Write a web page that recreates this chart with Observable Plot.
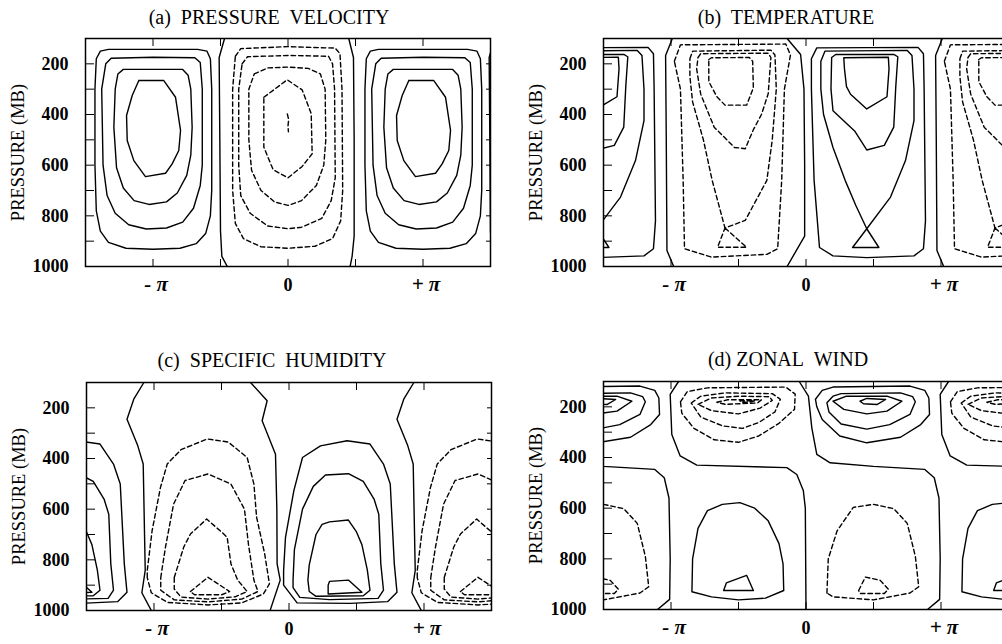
<!DOCTYPE html>
<html>
<head>
<meta charset="utf-8">
<script src="https://cdn.jsdelivr.net/npm/d3@7"></script>
<script src="https://cdn.jsdelivr.net/npm/@observablehq/plot@0.6"></script>
<style>
  html, body { margin: 0; padding: 0; background: #fff; overflow: hidden; }
  #root { position: relative; width: 1002px; height: 644px; overflow: hidden; background: #fff; }
  #root svg { position: absolute; overflow: visible; }
</style>
</head>
<body>
<div id="root"></div>
<script>
// ---------- labels ----------
const panelTitles = ["(a)\u00a0 PRESSURE\u00a0 VELOCITY", "(b)\u00a0 TEMPERATURE", "(c)\u00a0 SPECIFIC\u00a0 HUMIDITY", "(d)\u00a0ZONAL\u00a0 WIND"];
const yAxisTitle = "PRESSURE (MB)";
const pressureLabels = [200, 400, 600, 800, 1000];
const pressureTicks = [100, 200, 300, 400, 500, 600, 700, 800, 900, 1000];
const longitudeTicks = [-1.5, -1, -0.5, 0, 0.5, 1, 1.5];          // in units of pi
const longitudeLabels = [{x: -1, label: "- π"}, {x: 0, label: "0"}, {x: 1, label: "+ π"}];
const periodShifts = [-2, 0, 2];                                     // the pattern repeats every 2π

// ---------- contour lines: [longitude/π, pressure mb], lev = contour level ----------
const velocityContours = [
  {lev: 4, pts: [[-1.105,266],[-0.92,266],[-0.833,332],[-0.796,463],[-0.809,542],[-0.858,595],[-0.907,632],[-1.056,645],[-1.142,582],[-1.191,503],[-1.196,404],[-1.154,325]]},
  {lev: 3, pts: [[-1.26,240],[-1.22,222],[-0.78,222],[-0.74,245],[-0.72,300],[-0.71,450],[-0.72,560],[-0.75,640],[-0.82,710],[-0.9,745],[-1.03,755],[-1.14,740],[-1.22,690],[-1.27,610],[-1.29,450],[-1.28,300]]},
  {lev: 2, pts: [[-1.35,200],[-1.31,178],[-1.0,174],[-0.69,176],[-0.65,195],[-0.635,300],[-0.635,600],[-0.65,680],[-0.7,770],[-0.78,825],[-0.9,848],[-1.05,852],[-1.18,835],[-1.28,790],[-1.34,720],[-1.37,600],[-1.38,300]]},
  {lev: 1, pts: [[-1.42,180],[-1.39,150],[-1.33,143],[-0.67,143],[-0.6,150],[-0.575,180],[-0.565,300],[-0.565,700],[-0.575,800],[-0.61,870],[-0.68,910],[-0.8,928],[-1.0,932],[-1.2,928],[-1.33,905],[-1.39,860],[-1.42,780],[-1.43,600],[-1.43,300]]},
  {lev: 0, open: true, pts: [[-0.47,100],[-0.51,175],[-0.505,500],[-0.5,860],[-0.49,960],[-0.45,1000]]},
  {lev: 0, open: true, pts: [[0.45,100],[0.485,175],[0.49,500],[0.49,880],[0.475,960],[0.46,1000]]},
  {lev: -1, pts: [[-0.39,170],[-0.35,140],[0.0,132],[0.35,138],[0.385,160],[0.4,300],[0.405,700],[0.39,820],[0.33,890],[0.2,920],[0.0,928],[-0.2,922],[-0.33,890],[-0.39,830],[-0.41,700],[-0.41,300]]},
  {lev: -2, pts: [[-0.34,200],[-0.3,172],[0.0,167],[0.3,170],[0.33,200],[0.345,300],[0.35,650],[0.32,740],[0.25,810],[0.1,845],[0.0,851],[-0.15,840],[-0.28,790],[-0.35,720],[-0.365,600],[-0.365,300]]},
  {lev: -3, pts: [[-0.25,240],[-0.15,216],[0.0,213],[0.15,218],[0.24,240],[0.275,300],[0.28,500],[0.265,600],[0.21,680],[0.1,740],[0.0,759],[-0.1,745],[-0.2,700],[-0.27,620],[-0.29,500],[-0.29,300]]},
  {lev: -4, pts: [[-0.179,332],[-0.006,263],[0.105,303],[0.172,397],[0.179,555],[0.105,605],[0.0,650],[-0.11,618],[-0.179,529]]},
  {lev: -5, open: true, pts: [[-0.005,398],[0.005,420],[0.0,445],[0.003,468]]}
];

const temperatureContours = [
  {lev: 4, pts: [[0.28,176],[0.61,174],[0.615,220],[0.6,330],[0.45,378],[0.33,320],[0.3,290],[0.285,220]]},
  {lev: 3, pts: [[0.19,175],[0.22,163],[0.65,163],[0.68,172],[0.665,290],[0.65,450],[0.58,522],[0.45,540],[0.36,465],[0.2,385],[0.185,300]]},
  {lev: 2, pts: [[0.11,190],[0.14,150],[0.75,147],[0.785,167],[0.8,300],[0.8,424],[0.737,582],[0.626,726],[0.45,851],[0.37,760],[0.29,660],[0.2,530],[0.13,400],[0.11,300]]},
  {lev: 2, pts: [[0.45,851],[0.54,925],[0.345,925]]},
  {lev: 1, pts: [[0.04,180],[0.08,137],[0.83,135],[0.87,160],[0.875,300],[0.885,820],[0.87,930],[0.8,958],[0.45,965],[0.2,958],[0.1,925],[0.06,660],[0.04,300]]},
  {lev: 0, open: true, pts: [[-0.14,100],[-0.04,163],[-0.015,300],[-0.01,600],[-0.01,880],[-0.14,1000]]},
  {lev: 0, open: true, pts: [[-0.99,100],[-1.04,167],[-1.035,500],[-1.03,937],[-0.98,1000]]},
  {lev: -1, pts: [[-0.975,190],[-0.93,125],[-0.15,122],[-0.115,165],[-0.16,300],[-0.18,660],[-0.21,930],[-0.29,952],[-0.7,963],[-0.9,930],[-0.91,660],[-0.93,300]]},
  {lev: -2, pts: [[-0.86,180],[-0.84,150],[-0.26,146],[-0.23,165],[-0.22,300],[-0.25,500],[-0.29,660],[-0.45,818],[-0.6,848],[-0.695,660],[-0.76,500],[-0.84,350],[-0.86,250]]},
  {lev: -2, pts: [[-0.6,848],[-0.44,924],[-0.655,924]]},
  {lev: -3, pts: [[-0.8,175],[-0.78,160],[-0.28,158],[-0.26,175],[-0.28,318],[-0.33,400],[-0.39,460],[-0.45,535],[-0.53,530],[-0.68,450],[-0.78,320],[-0.81,220]]},
  {lev: -4, pts: [[-0.72,183],[-0.7,176],[-0.42,175],[-0.395,190],[-0.39,295],[-0.44,363],[-0.6,363],[-0.66,330],[-0.72,270]]}
];

const humidityContours = [
  {lev: 0, open: true, pts: [[-1.075,100],[-1.15,166],[-1.2,245],[-1.12,350],[-1.08,422],[-1.065,842],[-1.09,930],[-1.02,1000]]},
  {lev: 0, open: true, pts: [[-0.285,100],[-0.162,172],[-0.199,251],[-0.1,383],[-0.09,600],[-0.088,816],[-0.065,880],[-0.14,1000]]},
  {lev: 1, pts: [[-0.04,842],[-0.026,711],[0.036,527],[0.1,396],[0.233,350],[0.43,330],[0.6,343],[0.7,422],[0.75,501],[0.78,816],[0.8,928],[0.73,965],[0.45,972],[0.06,970],[-0.04,900]]},
  {lev: 2, pts: [[0.03,880],[0.04,760],[0.1,600],[0.18,510],[0.27,465],[0.44,460],[0.55,490],[0.63,560],[0.665,620],[0.68,816],[0.7,920],[0.66,952],[0.3,957],[0.08,948],[0.03,910]]},
  {lev: 3, pts: [[0.14,880],[0.15,820],[0.2,700],[0.245,660],[0.3,650],[0.44,643],[0.5,690],[0.54,740],[0.58,840],[0.6,920],[0.55,942],[0.2,944],[0.15,925]]},
  {lev: 4, pts: [[0.29,900],[0.3,885],[0.44,880],[0.54,928],[0.29,935]]},
  {lev: -1, pts: [[-1.05,870],[-1.05,842],[-1.014,685],[-0.952,514],[-0.902,422],[-0.8,365],[-0.606,323],[-0.45,335],[-0.31,396],[-0.26,501],[-0.24,632],[-0.18,777],[-0.145,895],[-0.19,935],[-0.35,970],[-0.6,978],[-0.9,968],[-1.02,930]]},
  {lev: -2, pts: [[-0.95,870],[-0.915,750],[-0.855,580],[-0.77,487],[-0.6,461],[-0.43,501],[-0.33,600],[-0.3,740],[-0.26,880],[-0.23,925],[-0.35,955],[-0.6,966],[-0.85,958],[-0.95,920]]},
  {lev: -3, pts: [[-0.85,870],[-0.78,750],[-0.73,698],[-0.61,639],[-0.5,690],[-0.458,711],[-0.43,816],[-0.38,880],[-0.31,925],[-0.4,946],[-0.6,955],[-0.8,947],[-0.85,915]]},
  {lev: -4, pts: [[-0.73,925],[-0.6,869],[-0.44,925],[-0.5,938],[-0.7,938]]}
];

const windContours = [
  {lev: 0, open: true, pts: [[-0.944,100],[-1.006,151],[-0.994,309],[-0.932,394],[-0.809,430],[-0.142,440],[-0.068,467],[-0.02,530],[-0.005,600],[0.0,1000]]},
  {lev: 0, open: true, pts: [[-0.05,100],[0.018,158],[0.043,283],[0.08,388],[0.179,421],[0.5,435],[0.88,447],[0.95,480],[0.985,560],[0.994,800],[0.99,960],[0.9,1000]]},
  {lev: 1, pts: [[0.07,170],[0.12,135],[0.2,122],[0.77,118],[0.88,135],[0.91,165],[0.915,230],[0.85,270],[0.7,320],[0.45,342],[0.25,315],[0.12,250],[0.08,200]]},
  {lev: 2, pts: [[0.155,184],[0.2,158],[0.26,148],[0.7,145],[0.79,160],[0.81,180],[0.77,230],[0.62,270],[0.45,288],[0.26,268],[0.17,220]]},
  {lev: 3, pts: [[0.2,178],[0.3,158],[0.6,158],[0.71,178],[0.6,217],[0.45,228],[0.28,210]]},
  {lev: 4, pts: [[0.4,178],[0.45,167],[0.59,171],[0.525,191],[0.426,188]]},
  {lev: -1, pts: [[-0.93,180],[-0.88,140],[-0.73,125],[-0.15,122],[-0.08,150],[-0.085,210],[-0.2,265],[-0.35,315],[-0.5,340],[-0.68,330],[-0.83,285],[-0.92,225]]},
  {lev: -2, pts: [[-0.85,185],[-0.78,158],[-0.6,145],[-0.25,148],[-0.19,170],[-0.23,220],[-0.35,262],[-0.47,285],[-0.62,275],[-0.78,240]]},
  {lev: -3, pts: [[-0.8,190],[-0.7,165],[-0.5,158],[-0.27,160],[-0.25,175],[-0.34,205],[-0.5,228],[-0.7,215]]},
  {lev: -4, pts: [[-0.66,182],[-0.58,172],[-0.33,172],[-0.36,185],[-0.6,190]]},
  {lev: -5, pts: [[-0.49,176],[-0.38,176],[-0.42,182],[-0.48,182]]},
  {lev: 1, pts: [[-0.845,930],[-0.84,800],[-0.8,680],[-0.73,610],[-0.62,585],[-0.49,578],[-0.38,600],[-0.28,650],[-0.2,740],[-0.17,820],[-0.165,925],[-0.3,955],[-0.5,962],[-0.7,950]]},
  {lev: 2, pts: [[-0.61,925],[-0.59,895],[-0.44,865],[-0.39,925]]},
  {lev: -1, pts: [[0.155,935],[0.165,800],[0.23,690],[0.35,597],[0.5,585],[0.65,602],[0.75,660],[0.81,790],[0.835,910],[0.77,935],[0.5,962],[0.2,950]]},
  {lev: -2, pts: [[0.39,925],[0.44,872],[0.55,885],[0.61,920],[0.58,937],[0.4,937]]}
];

// ---------- panel layout ----------
const panels = [
  {title: panelTitles[0], contours: velocityContours,    left: 0,   top: 0,   titleDx: -19, titleDy: -15},
  {title: panelTitles[1], contours: temperatureContours, left: 518, top: 0,   titleDx: -20, titleDy: -15},
  {title: panelTitles[2], contours: humidityContours,    left: 1,   top: 344, titleDx: -17, titleDy: -16},
  {title: panelTitles[3], contours: windContours,        left: 518, top: 343, titleDx: -18, titleDy: -16}
];

const serif = "'Liberation Serif', 'Times New Roman', 'DejaVu Serif', serif";
const root = document.getElementById("root");

function buildRows(contours) {
  const rows = [];
  contours.forEach((c, i) => {
    const pts = c.open ? c.pts : [...c.pts, c.pts[0]];
    periodShifts.forEach(s => {
      pts.forEach(([x, p]) => rows.push({x: x + s, p, lev: c.lev, id: i + "_" + s}));
    });
  });
  return rows;
}

panels.forEach(panel => {
  const rows = buildRows(panel.contours);
  const svg = Plot.plot({
    width: 500,
    height: 310,
    marginLeft: 85,
    marginRight: 10,
    marginTop: 38,
    marginBottom: 44,
    x: {domain: [-1.5, 1.5]},
    y: {domain: [100, 1000], reverse: true},
    style: {fontFamily: serif, color: "black", background: "transparent", overflow: "visible"},
    marks: [
      Plot.line(rows.filter(d => d.lev >= 0), {x: "x", y: "p", z: "id", stroke: "black", strokeWidth: 1.4, clip: true}),
      Plot.line(rows.filter(d => d.lev < 0), {x: "x", y: "p", z: "id", stroke: "black", strokeWidth: 1.4, strokeDasharray: "4.5,3", clip: true}),
      Plot.frame({stroke: "black", strokeWidth: 1.5}),
      // inward tick marks
      Plot.axisY({anchor: "left", ticks: pressureTicks, tickSize: -9, tickFormat: () => "", label: null}),
      Plot.axisY({anchor: "right", ticks: pressureTicks, tickSize: -5, tickFormat: () => "", label: null}),
      Plot.axisX({anchor: "top", ticks: longitudeTicks, tickSize: -7, tickFormat: () => "", label: null}),
      Plot.axisX({anchor: "bottom", ticks: longitudeTicks, tickSize: -7, tickFormat: () => "", label: null}),
      // tick labels
      Plot.text(pressureLabels, {y: d => d, text: d => String(d), frameAnchor: "left", textAnchor: "end", dx: -17, fontSize: 18, fontWeight: "bold", fill: "black"}),
      Plot.text(longitudeLabels.filter(d => d.x === 0), {x: "x", text: "label", frameAnchor: "bottom", dy: 24, fontSize: 18, fontWeight: "bold", fill: "black"}),
      Plot.text(longitudeLabels.filter(d => d.x !== 0), {x: "x", text: "label", frameAnchor: "bottom", dy: 24, dx: 3, fontSize: 21, fontWeight: "bold", fontStyle: "italic", fill: "black"}),
      // titles
      Plot.text([panel.title], {text: d => d, frameAnchor: "top", dx: panel.titleDx, dy: panel.titleDy, lineAnchor: "bottom", fontSize: 20, fill: "black"}),
      Plot.text([yAxisTitle], {text: d => d, frameAnchor: "left", textAnchor: "middle", rotate: -90, dx: -67, fontSize: 18.5, fill: "black"})
    ]
  });
  svg.style.left = panel.left + "px";
  svg.style.top = panel.top + "px";
  root.appendChild(svg);
});
</script>
</body>
</html>
